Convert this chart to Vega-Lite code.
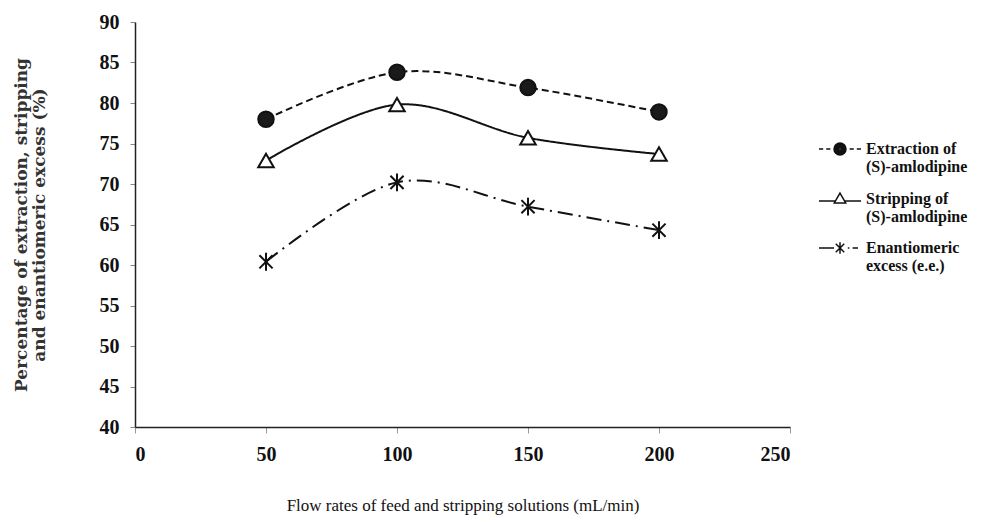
{
  "$schema": "https://vega.github.io/schema/vega-lite/v6.json",
  "width": 655,
  "height": 405,
  "autosize": {"type": "none"},
  "padding": {"left": 135, "top": 22, "right": 215, "bottom": 95},
  "background": "white",
  "config": {"view": {"stroke": null}, "font": "Liberation Serif"},
  "data": {
    "values": [
      {"flow": 50, "series": "Extraction of (S)-amlodipine", "value": 78.0},
      {"flow": 100, "series": "Extraction of (S)-amlodipine", "value": 83.8},
      {"flow": 150, "series": "Extraction of (S)-amlodipine", "value": 81.9},
      {"flow": 200, "series": "Extraction of (S)-amlodipine", "value": 78.9},
      {"flow": 50, "series": "Stripping of (S)-amlodipine", "value": 72.9},
      {"flow": 100, "series": "Stripping of (S)-amlodipine", "value": 79.8},
      {"flow": 150, "series": "Stripping of (S)-amlodipine", "value": 75.7},
      {"flow": 200, "series": "Stripping of (S)-amlodipine", "value": 73.7},
      {"flow": 50, "series": "Enantiomeric excess (e.e.)", "value": 60.4},
      {"flow": 100, "series": "Enantiomeric excess (e.e.)", "value": 70.2},
      {"flow": 150, "series": "Enantiomeric excess (e.e.)", "value": 67.2},
      {"flow": 200, "series": "Enantiomeric excess (e.e.)", "value": 64.3}
    ]
  },
  "encoding": {
    "x": {
      "field": "flow",
      "type": "quantitative",
      "scale": {"domain": [0, 250], "nice": false},
      "axis": {
        "values": [0, 50, 100, 150, 200, 250],
        "grid": false,
        "labelFont": "Liberation Serif",
        "labelFontWeight": "bold",
        "labelFontSize": 20,
        "labelColor": "#111",
        "labelPadding": 11,
        "tickColor": "#999",
        "tickSize": 6,
        "domainColor": "#222",
        "domainWidth": 1.5,
        "title": "Flow rates of feed and stripping solutions (mL/min)",
        "titleFont": "Liberation Serif",
        "titleFontWeight": "normal",
        "titleFontSize": 17,
        "titleColor": "#111",
        "titlePadding": 33
      }
    },
    "y": {
      "field": "value",
      "type": "quantitative",
      "scale": {"domain": [40, 90], "nice": false, "zero": false},
      "axis": {
        "values": [40, 45, 50, 55, 60, 65, 70, 75, 80, 85, 90],
        "grid": false,
        "labelFont": "Liberation Serif",
        "labelFontWeight": "bold",
        "labelFontSize": 20,
        "labelColor": "#111",
        "labelPadding": 11,
        "tickColor": "#888",
        "tickSize": 5,
        "domainColor": "#222",
        "domainWidth": 1.5,
        "title": ["Percentage of extraction, stripping", "and enantiomeric excess (%)"],
        "titleFont": "DejaVu Serif",
        "titleFontWeight": "bold",
        "titleFontSize": 17,
        "titleColor": "#333",
        "titlePadding": 51,
        "titleLineHeight": 18
      }
    }
  },
  "layer": [
    {
      "mark": {"type": "line", "interpolate": "cardinal", "strokeWidth": 2, "color": "#111"},
      "encoding": {
        "detail": {"field": "series", "type": "nominal"},
        "strokeDash": {
          "field": "series",
          "type": "nominal",
          "scale": {
            "domain": ["Extraction of (S)-amlodipine", "Stripping of (S)-amlodipine", "Enantiomeric excess (e.e.)"],
            "range": [[7, 4], [1, 0], [15, 6, 2, 6]]
          },
          "legend": null
        }
      }
    },
    {
      "mark": {"type": "point", "filled": true, "stroke": "#111", "strokeWidth": 2, "size": 240, "opacity": 1},
      "encoding": {
        "shape": {
          "field": "series",
          "type": "nominal",
          "scale": {
            "domain": ["Extraction of (S)-amlodipine", "Stripping of (S)-amlodipine", "Enantiomeric excess (e.e.)"],
            "range": ["circle", "triangle-up", "M0,-1.15L0,1.15M-0.85,-0.85L0.85,0.85M-0.85,0.85L0.85,-0.85"]
          },
          "legend": null
        },
        "fill": {
          "field": "series",
          "type": "nominal",
          "scale": {
            "domain": ["Extraction of (S)-amlodipine", "Stripping of (S)-amlodipine", "Enantiomeric excess (e.e.)"],
            "range": ["#1a1a1a", "#ffffff", "transparent"]
          },
          "legend": null
        }
      }
    },
    {
      "mark": {"type": "point", "filled": false, "strokeWidth": 1.5, "size": 144, "opacity": 0},
      "encoding": {
        "shape": {
          "field": "series",
          "type": "nominal",
          "scale": {
            "domain": ["Extraction of (S)-amlodipine", "Stripping of (S)-amlodipine", "Enantiomeric excess (e.e.)"],
            "range": [
              "M-3.5,0L-2.8,0M-2.3,0L-1.6,0M-1,0A1,1 0 1,0 1,0A1,1 0 1,0 -1,0M-0.8,0A0.8,0.8 0 1,0 0.8,0A0.8,0.8 0 1,0 -0.8,0M-0.6,0A0.6,0.6 0 1,0 0.6,0A0.6,0.6 0 1,0 -0.6,0M-0.4,0A0.4,0.4 0 1,0 0.4,0A0.4,0.4 0 1,0 -0.4,0M-0.2,0A0.2,0.2 0 1,0 0.2,0A0.2,0.2 0 1,0 -0.2,0M1.6,0L2.3,0M2.8,0L3.5,0",
              "M-3.5,0.4L-0.76,0.4M0.76,0.4L3.5,0.4M0,-0.9L0.95,0.75L-0.95,0.75Z",
              "M-3.5,0L-1.0,0M0,-0.95L0,0.95M-0.7,-0.7L0.7,0.7M-0.7,0.7L0.7,-0.7M1.3,0L1.55,0M2.1,0L3.0,0"
            ]
          },
          "legend": {
            "orient": "none",
            "legendX": 697,
            "legendY": 119,
            "title": null,
            "symbolSize": 144,
            "symbolStrokeWidth": 1.5,
            "labelFont": "Liberation Serif",
            "labelFontWeight": "bold",
            "labelFontSize": 16,
            "labelColor": "#111",
            "labelOffset": 18,
            "labelBaseline": "middle",
            "labelLimit": 300,
            "rowPadding": 14.5,
            "labelExpr": "indexof(datum.label, 'Extraction') == 0 ? ['Extraction of', '(S)-amlodipine'] : indexof(datum.label, 'Stripping') == 0 ? ['Stripping of', '(S)-amlodipine'] : ['Enantiomeric', 'excess (e.e.)']"
          }
        },
        "stroke": {
          "field": "series",
          "type": "nominal",
          "scale": {
            "domain": ["Extraction of (S)-amlodipine", "Stripping of (S)-amlodipine", "Enantiomeric excess (e.e.)"],
            "range": ["#111111", "#111111", "#111111"]
          },
          "legend": {
            "orient": "none",
            "legendX": 697,
            "legendY": 119,
            "title": null,
            "symbolSize": 144,
            "symbolStrokeWidth": 1.5,
            "labelFont": "Liberation Serif",
            "labelFontWeight": "bold",
            "labelFontSize": 16,
            "labelColor": "#111",
            "labelOffset": 18,
            "labelBaseline": "middle",
            "labelLimit": 300,
            "rowPadding": 14.5,
            "labelExpr": "indexof(datum.label, 'Extraction') == 0 ? ['Extraction of', '(S)-amlodipine'] : indexof(datum.label, 'Stripping') == 0 ? ['Stripping of', '(S)-amlodipine'] : ['Enantiomeric', 'excess (e.e.)']"
          }
        }
      }
    }
  ],
  "resolve": {"scale": {"shape": "independent", "fill": "independent", "stroke": "independent"}}
}
